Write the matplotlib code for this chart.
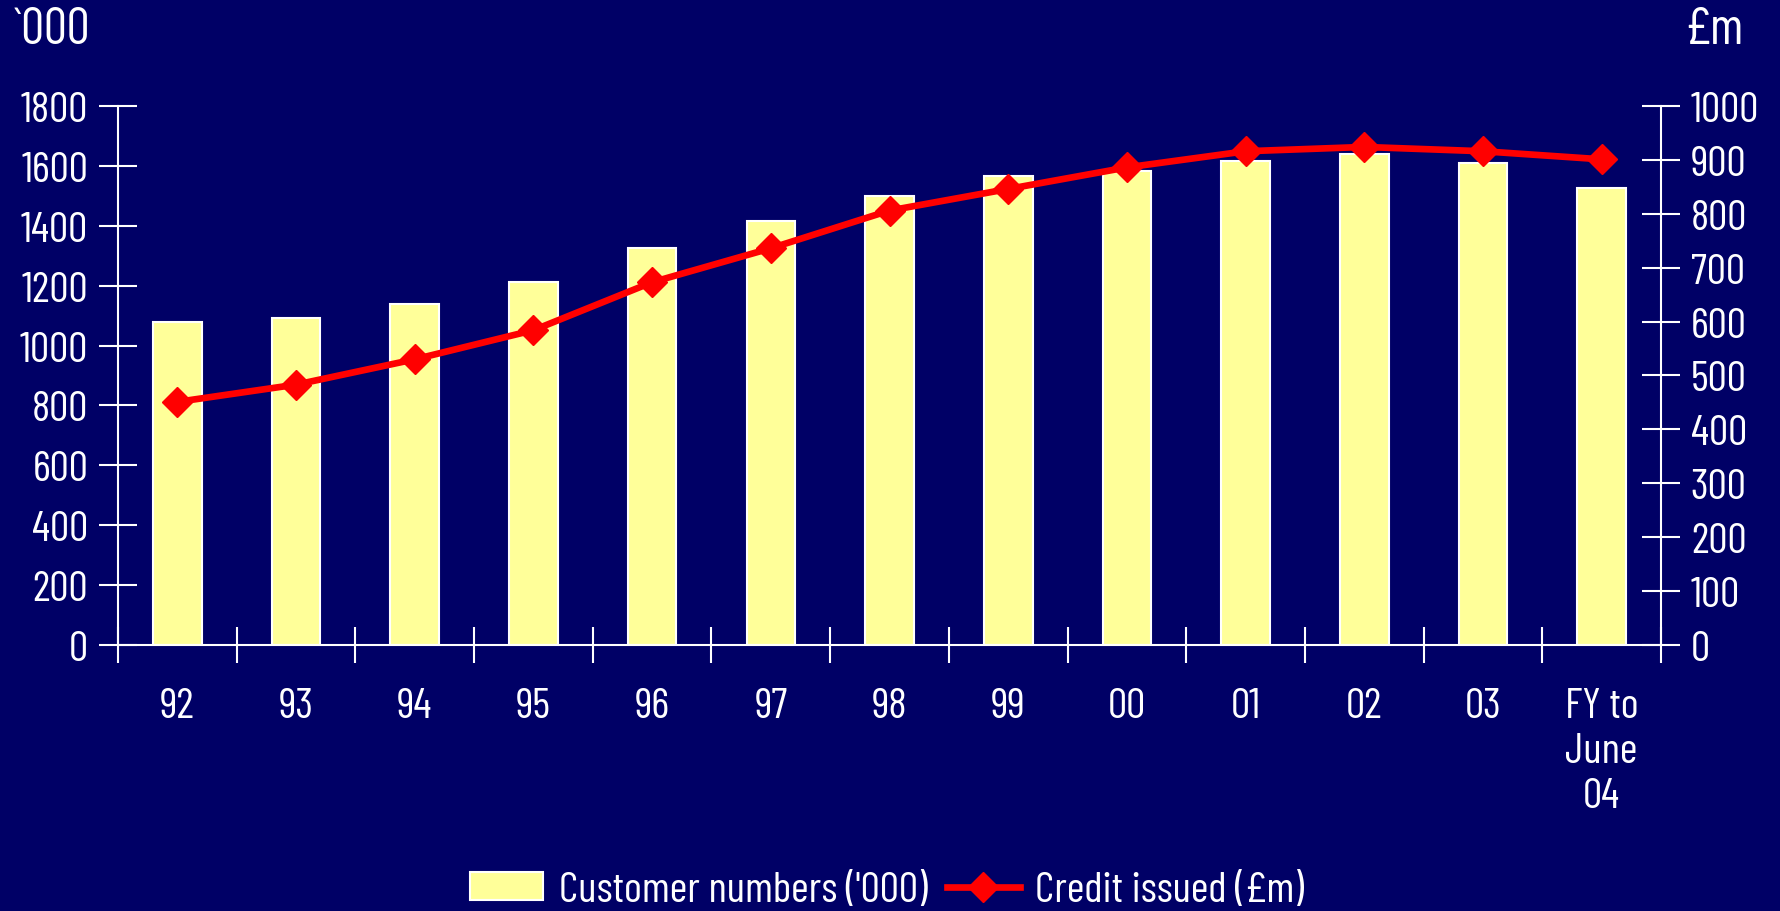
import matplotlib
matplotlib.use("Agg")
import matplotlib.pyplot as plt
import numpy as np

plt.rcParams["font.family"] = ["Barlow Condensed", "DejaVu Sans"]

# data
years = ["92", "93", "94", "95", "96", "97", "98", "99", "00", "01", "02", "03", "FY to\nJune\n04"]
customers = [1080, 1092, 1138, 1213, 1325, 1415, 1498, 1566, 1582, 1617, 1640, 1610, 1526]
credit = [451, 483, 530, 584, 673, 736, 806, 846, 886, 916, 924, 916, 901]

BG = "#000066"
BAR = "#FFFF99"
LINE = "#FF0000"
FS = 31

fig = plt.figure(figsize=(17.81, 9.12), dpi=100, facecolor=BG)
ax = fig.add_axes([0.0663, 0.2917, 0.9326 - 0.0663, 0.8827 - 0.2917])
ax.set_facecolor(BG)
ax2 = ax.twinx()

x = np.arange(len(years))
bars = ax.bar(x, customers, width=0.41, color=BAR, edgecolor="white", linewidth=1.5,
              label="Customer numbers ('000)", zorder=2)
line, = ax2.plot(x, credit, color=LINE, lw=4.8, marker="D", ms=15, mec=LINE,
                 label="Credit issued (£m)", zorder=3)

ax.set_xlim(-0.5, len(years) - 0.5)
ax.set_ylim(0, 1800)
ax2.set_ylim(0, 1000)
ax.set_yticks(np.arange(0, 1801, 200))
ax2.set_yticks(np.arange(0, 1001, 100))

ax.set_xticks(x)
ax.set_xticklabels(years, fontsize=FS, color="white", linespacing=1.2)
ax.set_xticks(np.arange(-0.5, len(years), 1), minor=True)
ax.tick_params(axis="x", which="major", length=0, pad=30)
ax.tick_params(axis="x", which="minor", direction="inout", length=26, width=1.5, color="white")

ax.tick_params(axis="y", direction="inout", length=27, width=1.5, color="white",
               labelcolor="white", labelsize=FS, pad=8)
ax2.tick_params(axis="y", direction="inout", length=27, width=1.5, color="white",
                labelcolor="white", labelsize=FS, pad=8)

for a in (ax, ax2):
    a.spines["top"].set_visible(False)
    for s in ("left", "right", "bottom"):
        a.spines[s].set_color("white")
        a.spines[s].set_linewidth(1.5)
ax.spines["right"].set_visible(False)
ax2.spines["left"].set_visible(False)
ax2.spines["bottom"].set_visible(False)

fig.text(0.0073, 0.992, "`000", fontsize=37, color="white", va="top", ha="left")
fig.text(0.979, 0.992, "£m", fontsize=37, color="white", va="top", ha="right")

leg = fig.legend([bars, line], ["Customer numbers ('000)", "Credit issued (£m)"],
                 loc="center", bbox_to_anchor=(0.498, 0.022), ncol=2, frameon=False,
                 fontsize=FS, labelcolor="white", handlelength=1.7, handleheight=0.63,
                 handletextpad=0.35, columnspacing=0.45, borderpad=0)

fig.savefig("out.png", dpi=100, facecolor=BG)
